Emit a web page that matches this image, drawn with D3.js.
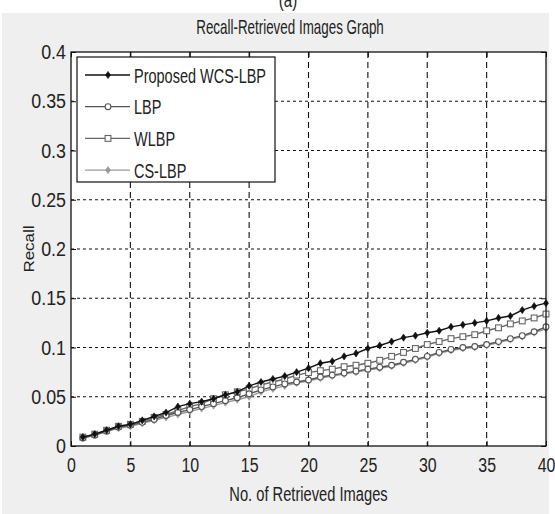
<!DOCTYPE html>
<html><head><meta charset="utf-8">
<script src="https://cdn.jsdelivr.net/npm/d3@7/dist/d3.min.js"></script>
<style>body{margin:0;background:#fff;}svg{display:block;}</style>
</head><body>
<script>
const xValues = d3.range(1, 41);
const proposed = [0.009,0.012,0.016,0.020,0.022,0.026,0.030,0.034,0.040,0.043,0.045,0.048,0.052,0.055,0.061,0.065,0.068,0.071,0.075,0.079,0.084,0.086,0.091,0.094,0.099,0.102,0.106,0.110,0.112,0.115,0.117,0.121,0.123,0.125,0.127,0.130,0.132,0.138,0.142,0.145];
const lbp = [0.008,0.011,0.015,0.019,0.021,0.024,0.027,0.031,0.034,0.037,0.040,0.043,0.046,0.049,0.053,0.057,0.060,0.063,0.065,0.067,0.070,0.072,0.074,0.076,0.078,0.080,0.082,0.085,0.088,0.091,0.095,0.098,0.100,0.101,0.103,0.106,0.109,0.112,0.116,0.121];
const wlbp = [0.009,0.012,0.016,0.020,0.022,0.025,0.029,0.032,0.036,0.040,0.043,0.048,0.052,0.055,0.058,0.062,0.065,0.068,0.072,0.0745,0.0765,0.078,0.0805,0.082,0.084,0.087,0.091,0.095,0.099,0.103,0.106,0.109,0.111,0.113,0.117,0.120,0.124,0.127,0.130,0.134];
const cslbp = [0.008,0.011,0.015,0.018,0.020,0.023,0.026,0.029,0.032,0.035,0.038,0.041,0.044,0.047,0.050,0.055,0.058,0.061,0.064,0.066,0.069,0.071,0.073,0.075,0.077,0.079,0.081,0.084,0.087,0.090,0.094,0.097,0.099,0.100,0.102,0.105,0.108,0.111,0.115,0.119];
const seriesNames = ["Proposed WCS-LBP","LBP","WLBP","CS-LBP"];
const xTicks = [0,5,10,15,20,25,30,35,40];
const yTicks = [0,0.05,0.1,0.15,0.2,0.25,0.3,0.35,0.4];
const titleText = "Recall-Retrieved Images Graph";
const xLabel = "No. of Retrieved Images";
const yLabel = "Recall";

const W = 555, H = 514;
const L = 71, R = 546, T = 52, B = 446;
const FONT = "Arial, 'Liberation Sans', sans-serif";

const svg = d3.select("body").append("svg").attr("width", W).attr("height", H);
svg.append("rect").attr("x",2).attr("y",13).attr("width",547).attr("height",H-13).attr("fill","#efefef");
svg.append("text").attr("transform","translate(288,7) scale(0.75,1)").attr("text-anchor","middle")
  .attr("font-family",FONT).attr("font-size",20).attr("fill","#222").text("(a)");

const x = d3.scaleLinear().domain([0,40]).range([L,R]);
const y = d3.scaleLinear().domain([0,0.4]).range([B,T]);

svg.append("rect").attr("x",L).attr("y",T).attr("width",R-L).attr("height",B-T).attr("fill","#fff");

// grid
const g = svg.append("g");
g.selectAll(".hg").data(yTicks.slice(1,-1)).join("line")
  .attr("x1",L).attr("x2",R).attr("y1",d=>y(d)).attr("y2",d=>y(d))
  .attr("stroke","#111").attr("stroke-width",1.1).attr("stroke-dasharray","3,3");
g.selectAll(".vg").data(xTicks.slice(1,-1)).join("line")
  .attr("y1",T).attr("y2",B).attr("x1",d=>x(d)).attr("x2",d=>x(d))
  .attr("stroke","#111").attr("stroke-width",1.1).attr("stroke-dasharray","6,4");

const series = [
  {name:seriesNames[0], vals:proposed, color:"#111", marker:"diamondFill"},
  {name:seriesNames[1], vals:lbp, color:"#555", marker:"circle"},
  {name:seriesNames[2], vals:wlbp, color:"#666", marker:"square"},
  {name:seriesNames[3], vals:cslbp, color:"#9a9a9a", marker:"diamondFill"}
];

function drawMarker(sel, type, color) {
  if (type === "circle") {
    sel.append("circle").attr("r",2.9).attr("fill","#fff").attr("stroke",color).attr("stroke-width",1.1);
  } else if (type === "square") {
    sel.append("rect").attr("x",-2.9).attr("y",-2.9).attr("width",5.8).attr("height",5.8)
      .attr("fill","#fff").attr("stroke",color).attr("stroke-width",1.1);
  } else {
    sel.append("path").attr("d","M0,-3.6L2.5,0L0,3.6L-2.5,0Z").attr("fill",color).attr("stroke",color).attr("stroke-width",0.6);
  }
}

const line = d3.line().x((d,i)=>x(xValues[i])).y(d=>y(d));
[...series].reverse().forEach(s => {
  svg.append("path").attr("d", line(s.vals)).attr("fill","none").attr("stroke",s.color).attr("stroke-width",1.4);
  s.vals.forEach((v,i) => {
    const m = svg.append("g").attr("transform",`translate(${x(xValues[i])},${y(v)})`);
    drawMarker(m, s.marker, s.color);
  });
});

// axes
const ax = svg.append("g").attr("transform",`translate(0,${B})`)
  .call(d3.axisBottom(x).tickValues(xTicks).tickSize(-5).tickFormat(d3.format("d")));
const axT = svg.append("g").attr("transform",`translate(0,${T})`)
  .call(d3.axisTop(x).tickValues(xTicks).tickSize(-5).tickFormat(""));
const ay = svg.append("g").attr("transform",`translate(${L},0)`)
  .call(d3.axisLeft(y).tickValues(yTicks).tickSize(-5).tickFormat(d=>d===0?"0":String(+d.toFixed(2))));
const ayR = svg.append("g").attr("transform",`translate(${R},0)`)
  .call(d3.axisRight(y).tickValues(yTicks).tickSize(-5).tickFormat(""));
[ax,axT,ay,ayR].forEach(a => {
  a.select(".domain").remove();
  a.selectAll(".tick line").attr("stroke","#111").attr("stroke-width",1);
});
ax.selectAll(".tick text").attr("font-family",FONT).attr("font-size",21).attr("fill","#222")
  .attr("y",null).attr("dy",null).attr("transform","translate(0,26) scale(0.76,1)");
ay.selectAll(".tick text").attr("font-family",FONT).attr("font-size",21).attr("fill","#222")
  .attr("x",null).attr("dy","0.36em").attr("transform","translate(-5,-1) scale(0.85,1)");

svg.append("rect").attr("x",L).attr("y",T).attr("width",R-L).attr("height",B-T)
  .attr("fill","none").attr("stroke","#111").attr("stroke-width",1.3);

// legend
const lg = svg.append("g");
lg.append("rect").attr("x",77).attr("y",57).attr("width",198).attr("height",125)
  .attr("fill","#fff").attr("stroke","#111").attr("stroke-width",1.2);
series.forEach((s,i) => {
  const yy = 75 + i*31.7;
  lg.append("line").attr("x1",85).attr("x2",130).attr("y1",yy).attr("y2",yy).attr("stroke",s.color).attr("stroke-width",1.3);
  const m = lg.append("g").attr("transform",`translate(108,${yy})`);
  drawMarker(m, s.marker, s.color);
  lg.append("text").attr("transform",`translate(134,${yy+7.5}) scale(0.69,1)`)
    .attr("font-family",FONT).attr("font-size",21).attr("fill","#222").text(s.name);
});

// labels
svg.append("text").attr("transform","translate(290,34) scale(0.67,1)").attr("text-anchor","middle")
  .attr("font-family",FONT).attr("font-size",20).attr("fill","#222").text(titleText);
svg.append("text").attr("transform",`translate(${(L+R)/2},501) scale(0.7,1)`).attr("text-anchor","middle")
  .attr("font-family",FONT).attr("font-size",21).attr("fill","#222").text(xLabel);
svg.append("text").attr("transform",`translate(34,${(T+B)/2}) scale(0.9,1) rotate(-90)`).attr("text-anchor","middle")
  .attr("font-family",FONT).attr("font-size",17).attr("fill","#222").text(yLabel);
</script>
</body></html>
